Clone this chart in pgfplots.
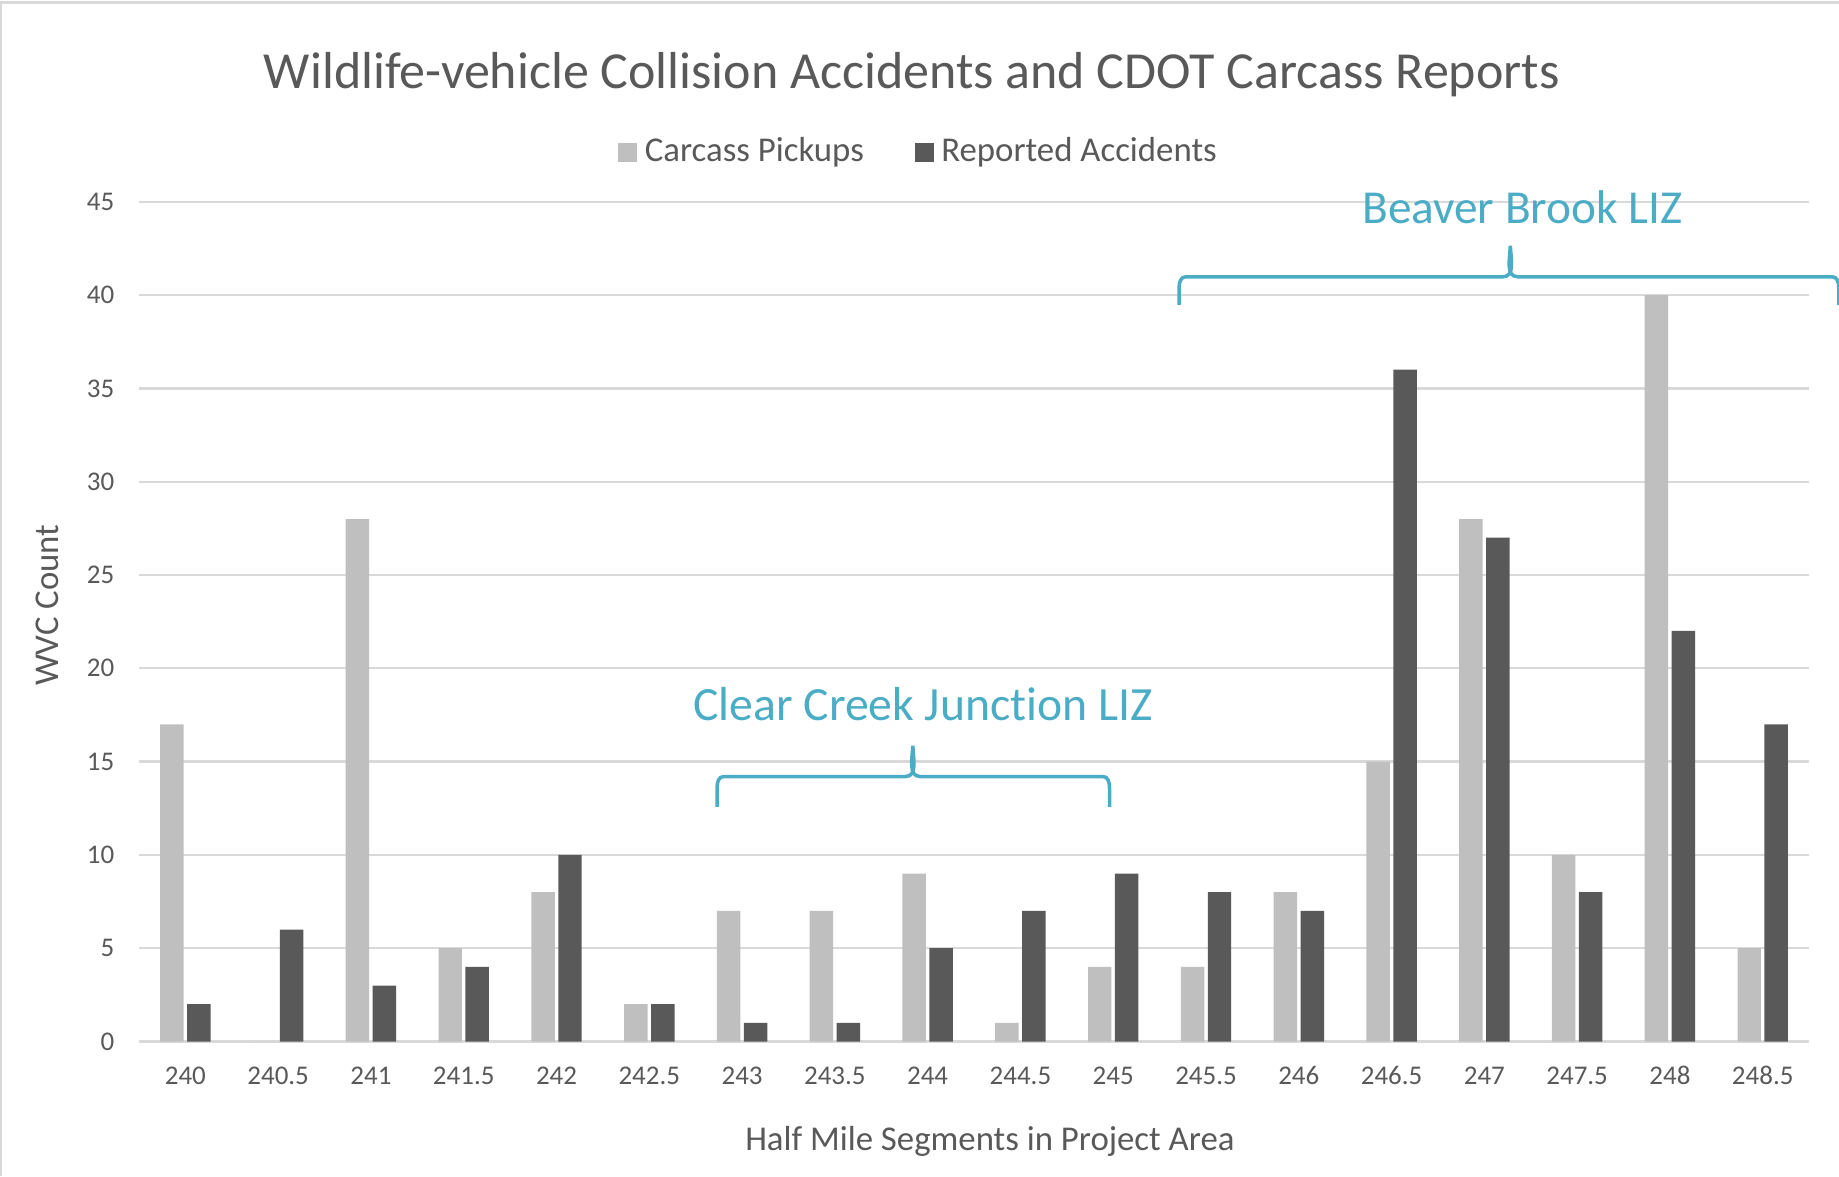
\documentclass[border=0pt]{standalone}
\usepackage{pgfplots}
\pgfplotsset{compat=1.18}
\usepackage{fontspec}
\setmainfont[Ligatures=NoCommon]{Carlito}
\definecolor{lightbar}{HTML}{BFBFBF}
\definecolor{darkbar}{HTML}{595959}
\definecolor{textgray}{HTML}{595959}
\definecolor{gridgray}{HTML}{D9D9D9}
\definecolor{annoblue}{HTML}{4BACC6}
\begin{document}
\begin{tikzpicture}
\useasboundingbox (0,0) rectangle (470.4pt,-300.9pt);
\draw[gridgray, line width=0.6pt] (0.3pt,-300.9pt) -- (0.3pt,-0.6pt) -- (470.4pt,-0.6pt);
\begin{axis}[
  at={(35.55pt,-266.4pt)}, anchor=south west,
  scale only axis, width=427.2pt, height=214.8pt,
  xmin=-0.5, xmax=17.5, ymin=0, ymax=45,
  ybar=0.9pt, bar width=6pt,
  axis line style={draw=none},
  tick style={draw=none},
  ymajorgrids, grid style={gridgray, line width=0.6pt},
  ytick={0,5,...,45},
  xtick={0,...,17},
  xticklabels={240,240.5,241,241.5,242,242.5,243,243.5,244,244.5,245,245.5,246,246.5,247,247.5,248,248.5},
  /pgf/number format/assume math mode=true,
  ticklabel style={font=\fontsize{6.9}{8}\selectfont, text=textgray},
  xticklabel style={yshift=1.4pt},
  yticklabel style={xshift=-2.8pt},
  xlabel={Half Mile Segments in Project Area},
  xlabel style={at={(axis description cs:0.5095,0)}, anchor=center, yshift=-25.5pt, font=\fontsize{8.9}{10}\selectfont, text=textgray},
  ylabel={WVC Count},
  ylabel style={at={(axis description cs:0,0.5196)}, anchor=center, yshift=23.55pt, font=\fontsize{8.9}{10}\selectfont, text=textgray},
  title={Wildlife-vehicle Collision Accidents and CDOT Carcass Reports},
  title style={at={(axis description cs:0.4628,1.1237)}, anchor=center, font=\fontsize{13.3}{15}\selectfont, text=textgray},
  legend style={at={(axis description cs:0.4685,1.0587)}, anchor=center, draw=none, fill=none,
    font=\fontsize{8.9}{10}\selectfont, text=textgray, inner sep=0pt,
    /tikz/every even column/.append style={column sep=11pt}},
  legend columns=2,
  legend image code/.code={\fill[#1] (0pt,-2.4pt) rectangle (4.8pt,2.4pt);},
  clip=false,
]
\addplot[fill=lightbar, draw=none] coordinates {
(0,17) (1,0) (2,28) (3,5) (4,8) (5,2) (6,7) (7,7) (8,9) (9,1) (10,4) (11,4) (12,8) (13,15) (14,28) (15,10) (16,40) (17,5)};
\addlegendentry{Carcass Pickups}
\addplot[fill=darkbar, draw=none] coordinates {
(0,2) (1,6) (2,3) (3,4) (4,10) (5,2) (6,1) (7,1) (8,5) (9,7) (10,9) (11,8) (12,7) (13,36) (14,27) (15,8) (16,22) (17,17)};
\addlegendentry{Reported Accidents}
% bracket annotations
\draw[annoblue, line width=0.9pt]
  (axis cs:5.73,12.57) -- (axis cs:5.73,13.6) to[out=90,in=180] (axis cs:5.80,14.2)
  -- (axis cs:7.76,14.2) to[out=0,in=-88] (axis cs:7.84,15.85)
  to[out=-92,in=180] (axis cs:7.92,14.2) -- (axis cs:9.89,14.2)
  to[out=0,in=90] (axis cs:9.96,13.6) -- (axis cs:9.96,12.57);
\node[text=annoblue, font=\fontsize{12.2}{14}\selectfont] at (axis cs:7.95,18.1) {Clear Creek Junction LIZ};
\draw[annoblue, line width=0.9pt]
  (axis cs:10.71,39.47) -- (axis cs:10.71,40.4) to[out=90,in=180] (axis cs:10.78,40.98)
  -- (axis cs:14.20,40.98) to[out=0,in=-88] (axis cs:14.28,42.65)
  to[out=-92,in=180] (axis cs:14.36,40.98) -- (axis cs:17.75,40.98)
  to[out=0,in=90] (axis cs:17.82,40.4) -- (axis cs:17.82,39.47);
\node[text=annoblue, font=\fontsize{12.1}{14}\selectfont] at (axis cs:14.41,44.7) {Beaver Brook LIZ};
\end{axis}
\end{tikzpicture}
\end{document}
